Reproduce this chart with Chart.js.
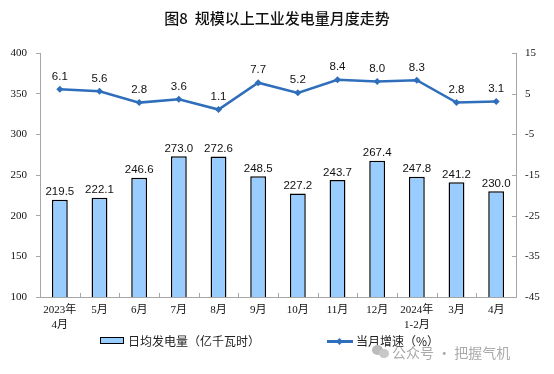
<!DOCTYPE html>
<html>
<head>
<meta charset="utf-8">
<script src="https://cdn.jsdelivr.net/npm/chart.js@4/dist/chart.umd.min.js"></script>
<style>
  html, body { margin: 0; padding: 0; background: #fff; }
  #wrap { position: relative; width: 554px; height: 374px; overflow: hidden; }
  canvas { position: absolute; left: 0; top: 0; }
  .lg { position: absolute; font-family: "Noto Sans CJK SC", sans-serif; font-size: 12px; color: #222; line-height: 14px; white-space: nowrap; }
  .barIcon { position: absolute; width: 22px; height: 5px; background: #99CCFF; border: 1.5px solid #000; }
  .lineIcon { position: absolute; width: 26px; height: 2.5px; background: #2F6EBA; }
  .dia { position: absolute; width: 5px; height: 5px; background: #2F6EBA; transform: rotate(45deg); }
  .wm { position: absolute; font-family: "Noto Sans CJK SC", sans-serif; font-size: 14px; color: #aaa; white-space: nowrap; }
  .c { position: absolute; border-radius: 50%; background: #bbb; }
</style>
</head>
<body>
<div id="wrap">
  <canvas id="c" width="554" height="374"></canvas>
  <div class="barIcon" style="left:100px; top:337px;"></div>
  <div class="lg" style="left:128px; top:334px;">日均发电量（亿千瓦时）</div>
  <div class="lineIcon" style="left:327px; top:340px;"></div>
  <div class="dia" style="left:337px; top:338.5px;"></div>
  <div class="lg" style="left:356px; top:334px;">当月增速（%）</div>
  <div class="c" style="left:372px; top:345px; width:11px; height:10px;"></div>
  <div class="c" style="left:379px; top:349px; width:10px; height:9px; background:#c8c8c8;"></div>
  <div class="wm" style="left:392px; top:342px;">公众号 · 把握气机</div>
</div>
<script>
const categories = [["2023年","4月"],"5月","6月","7月","8月","9月","10月","11月","12月",["2024年","1-2月"],"3月","4月"];
const dailyGeneration = [219.5, 222.1, 246.6, 273.0, 272.6, 248.5, 227.2, 243.7, 267.4, 247.8, 241.2, 230.0];
const monthlyGrowth = [6.1, 5.6, 2.8, 3.6, 1.1, 7.7, 5.2, 8.4, 8.0, 8.3, 2.8, 3.1];
const leftTicks = [100, 400, 50];
const rightTicks = [-45, 15, 10];

const AXIS = '#A6A6A6';

const labelPlugin = {
  id: 'labels',
  afterDatasetsDraw(chart) {
    const ctx = chart.ctx;
    ctx.save();
    ctx.fillStyle = '#111';
    ctx.font = '11.5px "Liberation Sans", Arial, sans-serif';
    ctx.textAlign = 'center';
    ctx.textBaseline = 'bottom';
    chart.getDatasetMeta(0).data.forEach((el, i) => {
      ctx.fillText(dailyGeneration[i].toFixed(1), el.x, el.y - 2);
    });
    chart.getDatasetMeta(1).data.forEach((el, i) => {
      ctx.fillText(monthlyGrowth[i].toFixed(1), el.x, el.y - 7);
    });
    ctx.restore();
  }
};

const tickPlugin = {
  id: 'innerTicks',
  afterDraw(chart) {
    const ctx = chart.ctx;
    const a = chart.chartArea;
    const xs = chart.scales.x;
    const y1 = chart.scales.y1;
    ctx.save();
    ctx.strokeStyle = AXIS;
    ctx.lineWidth = 1;
    ctx.beginPath();
    for (let i = 0; i <= categories.length; i++) {
      const px = Math.round(xs.getPixelForValue(i - 0.5)) + 0.5;
      ctx.moveTo(px, a.bottom);
      ctx.lineTo(px, a.bottom - 4);
    }
    y1.ticks.forEach(t => {
      const py = Math.round(y1.getPixelForValue(t.value)) + 0.5;
      ctx.moveTo(a.right, py);
      ctx.lineTo(a.right - 4, py);
    });
    ctx.stroke();
    ctx.restore();
  }
};

new Chart(document.getElementById('c'), {
  data: {
    labels: categories,
    datasets: [
      {
        type: 'bar',
        label: '日均发电量（亿千瓦时）',
        data: dailyGeneration,
        yAxisID: 'y',
        backgroundColor: '#99CCFF',
        borderColor: '#000',
        borderWidth: 1.5,
        categoryPercentage: 1,
        barPercentage: 0.4,
        order: 2
      },
      {
        type: 'line',
        label: '当月增速（%）',
        data: monthlyGrowth,
        yAxisID: 'y1',
        borderColor: '#2F6EBA',
        backgroundColor: '#2F6EBA',
        borderWidth: 2.5,
        pointStyle: 'rectRot',
        pointRadius: 3.5,
        pointBorderWidth: 0,
        tension: 0,
        order: 1
      }
    ]
  },
  options: {
    responsive: false,
    animation: false,
    layout: { padding: { top: 0, bottom: 37, left: 0, right: 0 } },
    plugins: {
      legend: { display: false },
      tooltip: { enabled: false },
      title: {
        display: true,
        text: '图8  规模以上工业发电量月度走势',
        color: '#111',
        font: { family: '"Noto Sans CJK SC", sans-serif', size: 15, weight: '500' },
        padding: { top: 9, bottom: 26 }
      }
    },
    scales: {
      x: {
        offset: true,
        grid: { display: true, drawOnChartArea: false, drawTicks: false, offset: true },
        border: { color: AXIS, width: 1 },
        ticks: {
          color: '#111',
          padding: 5,
          maxRotation: 0,
          autoSkip: false,
          font: { family: '"Liberation Serif", "Noto Sans CJK SC", serif', size: 11, lineHeight: 1.4 }
        },
        afterFit(s) { s.height = 40; }
      },
      y: {
        position: 'left',
        min: leftTicks[0], max: leftTicks[1],
        ticks: { stepSize: leftTicks[2], color: '#111', padding: 9, font: { family: '"Liberation Serif", serif', size: 11 } },
        grid: { drawOnChartArea: false, drawTicks: true, tickLength: 4, color: AXIS },
        border: { color: AXIS, width: 1 },
        afterFit(s) { s.width = 40; }
      },
      y1: {
        position: 'right',
        min: rightTicks[0], max: rightTicks[1],
        ticks: { stepSize: rightTicks[2], color: '#111', padding: 9, font: { family: '"Liberation Serif", serif', size: 11 } },
        grid: { drawOnChartArea: false, drawTicks: false },
        border: { color: AXIS, width: 1 },
        afterFit(s) { s.width = 38; }
      }
    }
  },
  plugins: [labelPlugin, tickPlugin]
});
</script>
</body>
</html>
